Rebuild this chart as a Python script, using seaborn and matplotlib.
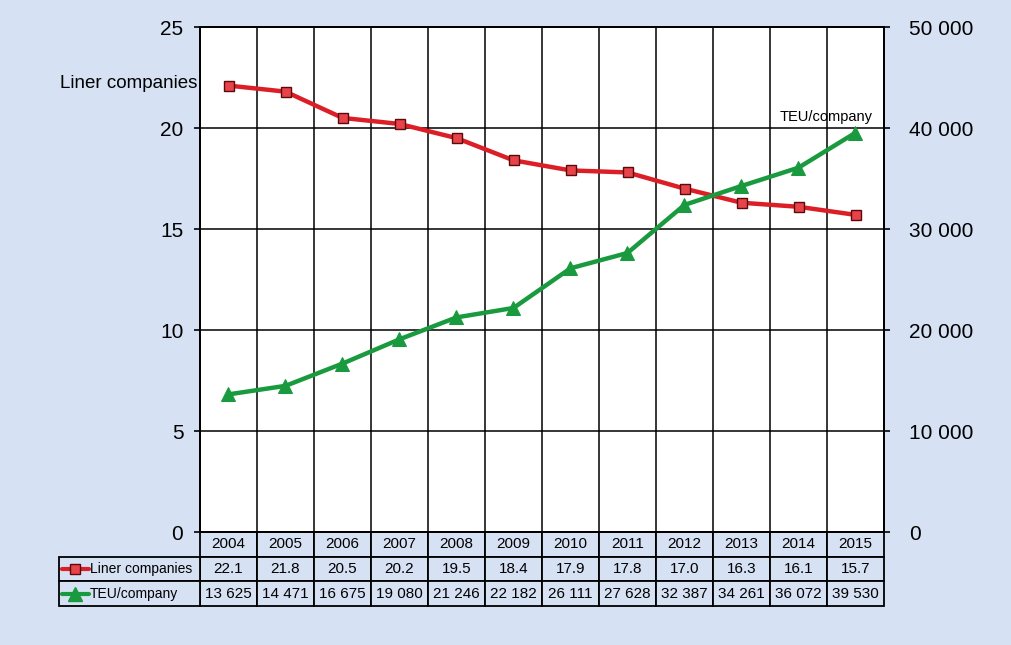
import matplotlib
matplotlib.use("Agg")
import matplotlib.pyplot as plt
import matplotlib.transforms as mtransforms
from matplotlib.lines import Line2D
from matplotlib.patches import Rectangle
import seaborn as sns
import pandas as pd
from matplotlib import font_manager

years = [2004, 2005, 2006, 2007, 2008, 2009, 2010, 2011, 2012, 2013, 2014, 2015]
liner_companies = [22.1, 21.8, 20.5, 20.2, 19.5, 18.4, 17.9, 17.8, 17.0, 16.3, 16.1, 15.7]
teu_per_company = [13625, 14471, 16675, 19080, 21246, 22182, 26111, 27628, 32387, 34261, 36072, 39530]
left_ticks = [0, 5, 10, 15, 20, 25]
right_ticks = [0, 10000, 20000, 30000, 40000, 50000]
right_tick_labels = ["0", "10 000", "20 000", "30 000", "40 000", "50 000"]
series_names = ["Liner companies", "TEU/company"]

BG = "#d6e1f3"
RED = "#dc1f26"
RED_FACE = "#e8434a"
RED_EDGE = "#5a0a0a"
GREEN = "#1a9a3e"

sns.set_theme(style="white")
names = {f.name for f in font_manager.fontManager.ttflist}
fam = ["Liberation Sans Narrow", "DejaVu Sans"] if "Liberation Sans Narrow" in names else ["Liberation Sans", "DejaVu Sans"]
plt.rcParams["font.family"] = fam
plt.rcParams["text.color"] = "black"
plt.rcParams["xtick.color"] = "black"
plt.rcParams["ytick.color"] = "black"
plt.rcParams["xtick.labelcolor"] = "black"
plt.rcParams["ytick.labelcolor"] = "black"

W, H = 1011, 645
fig = plt.figure(figsize=(W / 100, H / 100), dpi=100, facecolor=BG)
ax = fig.add_axes([200 / W, 1 - 532 / H, (884 - 200) / W, (532 - 27) / H])
ax.set_facecolor("white")

df = pd.DataFrame({"idx": range(len(years)), "liner": liner_companies, "teu": teu_per_company})

sns.lineplot(data=df, x="idx", y="liner", ax=ax, color=RED, linewidth=3.2,
             marker="s", markersize=7, markerfacecolor=RED_FACE, markeredgecolor=RED_EDGE,
             markeredgewidth=1.0, zorder=5)
ax.set_xlim(-0.5, len(years) - 0.5)
ax.set_ylim(0, 25)
ax.set_yticks(left_ticks)
ax.set_yticklabels([str(t) for t in left_ticks], fontsize=15)
ax.set_xticks([i - 0.5 for i in range(len(years) + 1)])
ax.set_xticklabels([])
ax.tick_params(axis="x", length=0)
ax.tick_params(axis="y", length=4, width=1.2, color="black", pad=8, direction="out", left=True)
ax.grid(True, color="black", linewidth=1.1)
ax.set_xlabel("")
ax.set_ylabel("")
for s in ax.spines.values():
    s.set_color("black")
    s.set_linewidth(1.3)

ax2 = ax.twinx()
sns.lineplot(data=df, x="idx", y="teu", ax=ax2, color=GREEN, linewidth=3.2,
             marker="^", markersize=10, markerfacecolor=GREEN, markeredgecolor=GREEN, zorder=5)
ax2.set_ylim(0, 50000)
ax2.set_yticks(right_ticks)
ax2.set_yticklabels(right_tick_labels, fontsize=15)
ax2.tick_params(axis="y", length=4, width=1.2, color="black", pad=14, direction="out", right=True)
ax2.set_ylabel("")
ax2.grid(False)
for s in ax2.spines.values():
    s.set_color("black")
    s.set_linewidth(1.3)

# Series labels
fig.text(197 / W, 1 - 84 / H, series_names[0], ha="right", va="center", fontsize=13.5, color="black")
ax2.text(len(years) - 1 + 0.3, 40400, series_names[1], ha="right", va="bottom", fontsize=10.5, color="black")

# Data table below the plot
trans = mtransforms.blended_transform_factory(ax.transData, ax.transAxes)
row_h = 24.7 / (532 - 27)
label_left = -0.5 - (200 - 59) / 57.0
rows_text = [
    [str(y) for y in years],
    [f"{v:.1f}" for v in liner_companies],
    [f"{v:,}".replace(",", " ") for v in teu_per_company],
]
lw = 1.3
for r, texts in enumerate(rows_text):
    y0 = -(r + 1) * row_h
    for c, t in enumerate(texts):
        ax.add_patch(Rectangle((c - 0.5, y0), 1, row_h, transform=trans, facecolor=BG,
                               edgecolor="black", linewidth=lw, clip_on=False, zorder=3))
        ax.text(c, y0 + row_h / 2, t, transform=trans, ha="center", va="center",
                fontsize=11, color="black", clip_on=False, zorder=4)
    if r > 0:
        ax.add_patch(Rectangle((label_left, y0), -0.5 - label_left, row_h, transform=trans,
                               facecolor=BG, edgecolor="black", linewidth=lw, clip_on=False, zorder=3))
        ax.text(label_left + 0.54, y0 + row_h / 2, series_names[r - 1], transform=trans,
                ha="left", va="center", fontsize=10, color="black", clip_on=False, zorder=4)
        xs = [label_left + 0.05, label_left + 0.52]
        if r == 1:
            ax.add_line(Line2D(xs, [y0 + row_h / 2] * 2, transform=trans, color=RED, linewidth=3,
                               clip_on=False, zorder=4))
            ax.add_line(Line2D([sum(xs) / 2], [y0 + row_h / 2], transform=trans, color=RED,
                               linestyle="none", marker="s", markersize=7, markerfacecolor=RED_FACE,
                               markeredgecolor=RED_EDGE, clip_on=False, zorder=5))
        else:
            ax.add_line(Line2D(xs, [y0 + row_h / 2] * 2, transform=trans, color=GREEN, linewidth=3,
                               clip_on=False, zorder=4))
            ax.add_line(Line2D([sum(xs) / 2], [y0 + row_h / 2], transform=trans, color=GREEN,
                               linestyle="none", marker="^", markersize=10, markerfacecolor=GREEN,
                               markeredgecolor=GREEN, clip_on=False, zorder=5))

fig.savefig("out.png", dpi=100, facecolor=BG)
